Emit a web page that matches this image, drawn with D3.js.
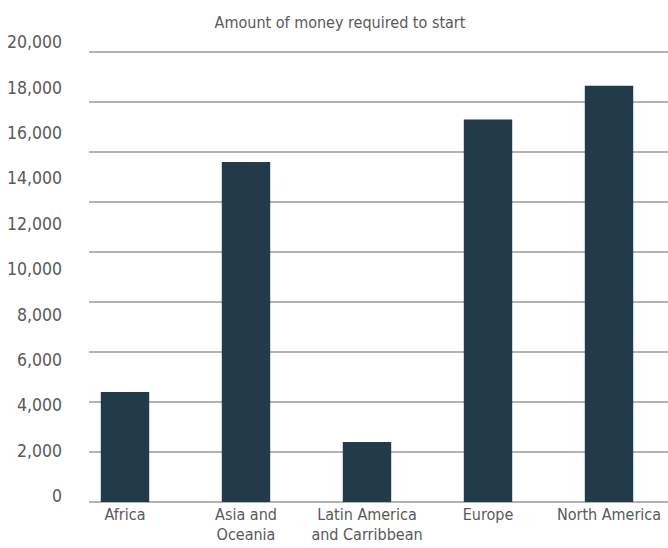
<!DOCTYPE html>
<html>
<head>
<meta charset="utf-8">
<script src="https://cdn.jsdelivr.net/npm/d3@7"></script>
<style>
  body { margin: 0; background: #fff; }
  text { font-family: "Liberation Sans Narrow", "DejaVu Sans Condensed", sans-serif; fill: #595959; }
</style>
</head>
<body>
<div id="chart"></div>
<script>
// data
var regions = ["Africa", "Asia and\nOceania", "Latin America\nand Carribbean", "Europe", "North America"];
var amounts = [4400, 13600, 2400, 15300, 16650];
var gridValues = [0, 2000, 4000, 6000, 8000, 10000, 12000, 14000, 16000, 18000];
var tickLabels = ["0", "2,000", "4,000", "6,000", "8,000", "10,000", "12,000", "14,000", "16,000", "18,000", "20,000"];
var title = "Amount of money required to start";

var width = 668, height = 548;

var svg = d3.select("#chart")
  .append("svg")
  .attr("width", width)
  .attr("height", height);

// scale for bars + gridlines
var y = d3.scaleLinear()
  .domain([0, 18000])
  .range([502, 52]);

// the axis labels are spaced on their own
var yLabel = d3.scaleLinear()
  .domain([0, tickLabels.length - 1])
  .range([496, 42]);

var x = d3.scaleBand()
  .domain(regions)
  .range([64.5, 669.5])
  .paddingInner(0.6)
  .paddingOuter(0.3);

// gridlines
svg.append("g")
  .selectAll("line")
  .data(gridValues)
  .enter()
  .append("line")
  .attr("x1", 89)
  .attr("x2", width)
  .attr("y1", function(d) { return y(d); })
  .attr("y2", function(d) { return y(d); })
  .style("stroke", "#b3b3b3")
  .style("stroke-width", 2);

// y labels
svg.append("g")
  .selectAll("text")
  .data(tickLabels)
  .enter()
  .append("text")
  .attr("x", 62)
  .attr("y", function(d, i) { return yLabel(i); })
  .attr("dy", "0.35em")
  .attr("text-anchor", "end")
  .style("font-size", "17.5px")
  .text(function(d) { return d; });

// bars
svg.append("g")
  .selectAll("rect")
  .data(amounts)
  .enter()
  .append("rect")
  .attr("x", function(d, i) { return x(regions[i]); })
  .attr("y", function(d) { return y(d); })
  .attr("width", x.bandwidth())
  .attr("height", function(d) { return y(0) - y(d); })
  .style("fill", "#223b4b");

// category labels (split on newline)
var cat = svg.append("g")
  .selectAll("text")
  .data(regions)
  .enter()
  .append("text")
  .attr("x", function(d) { return x(d) + x.bandwidth() / 2; })
  .attr("y", 520)
  .attr("dy", "0.35em")
  .attr("text-anchor", "middle")
  .style("font-size", "16px");

cat.selectAll("tspan")
  .data(function(d) { return d.split("\n"); })
  .enter()
  .append("tspan")
  .attr("x", function() { var p = d3.select(this.parentNode); return p.attr("x"); })
  .attr("dy", function(d, i) { return i ? 20 : 0; })
  .text(function(d) { return d; });

// title
svg.append("text")
  .attr("x", 340)
  .attr("y", 22)
  .attr("dy", "0.35em")
  .attr("text-anchor", "middle")
  .style("font-size", "16px")
  .text(title);
</script>
</body>
</html>
